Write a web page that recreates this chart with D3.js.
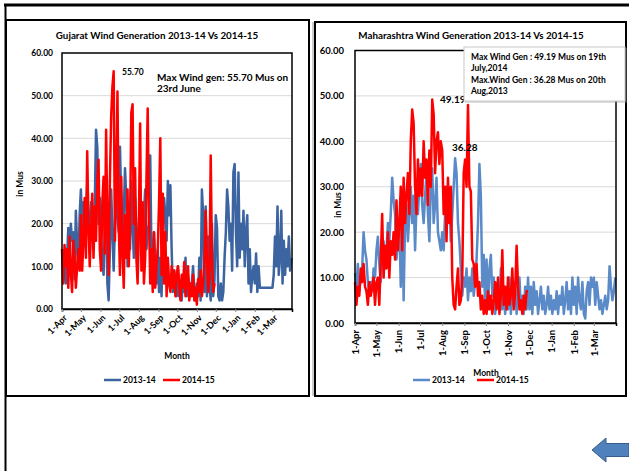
<!DOCTYPE html>
<html><head><meta charset="utf-8">
<script src="https://cdn.jsdelivr.net/npm/d3@7"></script>
<style>
body{margin:0;background:#fff;}
svg text{font-family:Lato,"Open Sans",sans-serif;}
</style></head>
<body><svg id="c" width="629" height="471"></svg>
<script>
// ---- Data (values every 2 days starting 1-Apr) ----
const dayStep = 2;
const monthTicks = ["1-Apr","1-May","1-Jun","1-Jul","1-Aug","1-Sep","1-Oct","1-Nov","1-Dec","1-Jan","1-Feb","1-Mar"];
const yTicks = [0,10,20,30,40,50,60];
const seriesNames = ["2013-14","2014-15"];

const gujarat1314 = [
 14,13,8,6,12,19,10,20,16,18,7,23,15,10,22,
 28,18,25,16,22,29,20,17,25,21,14,24,42,38,20,26,
 16,12,8,20,24,6,2,14,28,18,9,20,30,22,18,
 38,25,16,22,33,26,10,24,14,30,20,12,26,18,9,
 20,28,16,10,22,28,14,18,20,36,12,8,18,11,6,14,
 4,12,3,18,26,22,16,30,22,29,14,4,9,5,3,
 10,3,5,2,8,4,12,3,8,5,3,6,10,4,2,
 6,3,12,2,28,22,4,24,3,17,6,2,20,3,7,
 22,19,3,2,6,2,4,12,18,28,24,16,20,9,32,34,
 18,10,32,12,20,14,23,10,18,22,6,14,4,8,10,
 6,13,4,10,5,5,5,5,5,5,5,5,5,5,
 5,8,17,10,24,8,12,23,6,16,8,14,10,17,9,12];
const gujarat1415 = [
 14,6,15,10,14,5,17,9,4,16,12,5,10,14,9,
 22,9,16,26,12,37,20,10,18,27,12,24,16,30,35,14,
 9,25,31,13,42,20,8,30,45,52,55.7,16,28,51,20,
 8,31,14,5,22,12,28,10,20,46,48,20,33,12,6,
 20,43.5,9,25,6,12,30,47,22,6,14,4,18,5,10,14,
 25,40,8,27,6,18,3,12,6,4,10,5,9,3,8,
 10,6,2,8,5,11,3,7,10,2,6,3,8,2,5,
 1,7,4,9,3,6,11,23,12,4,7,36,12,4,6];

const maha1314 = [
 11,8,13,7,10,12,20,16,14,9,6,9,7,12,10,
 16,19,13,9,15,18,12,16,22,18,24,32,27,24,14,18,
 22,8,28,5,22,26,18,24,30,22,28,16,26,24,30,
 35,26,22,28,33,24,18,30,34,22,26,32,20,18,16,
 20,16,24,30,22,28,18,24,30,36.28,33,22,18,12,6,10,
 8,12,5,10,7,12,6,9,14,22,35,28,8,15,4,
 14,3,12,15,6,10,2,6,9,4,12,3,8,2,6,
 3,10,2,7,4,9,2,6,10,3,6,2,8,3,10,
 3,8,2,9,4,7,2,5,8,3,6,2,4,8,3,6,
 2,5,3,7,2,6,4,8,2,5,9,3,7,2,10,
 4,8,2,10,5,3,9,2,1,7,9,4,10,8,
 10,4,9,6,3,5,2,4,6,3,5,12.5,8,5,7,10];
const maha1415 = [
 9,4,8,6,12,9,13,8,7,4,9,6,8,10,4,
 9,10,4,14,24,10,17,12,20,10,18,15,20,14,27,16,
 22,30,16,32,22,28,33,24,40,47,44,30,24,36,28,
 34,28,40,32,36,26,38,30,49.19,46,33,40,42,35,40,
 38,24,30,18,32,22,30,10,4,3,8,12,4,5,10,33,
 36,30,48,30,29,14,13,8,13,6,9,3,6,2,5,
 2,7,3,6,2,5,9,3,10,2,6,16,4,8,3,
 10,4,6,12,3,7,17,8,3,5,2,6,3,7,7];

const colors = {red:"#ff0000", blueDark:"#3b64a0", blueLight:"#5a8ac8"};

const svg = d3.select("#c");
const start = new Date(2013,3,1);
const dateOf = i => d3.timeDay.offset(start, i*dayStep);
const tickDates = d3.timeMonth.range(new Date(2013,3,1), new Date(2014,3,1));

// outer frame
svg.append("line").attr("x1",4).attr("x2",629).attr("y1",5).attr("y2",5).attr("stroke","#000").attr("stroke-width",3);
svg.append("line").attr("x1",5.5).attr("x2",5.5).attr("y1",5).attr("y2",471).attr("stroke","#000").attr("stroke-width",2);
svg.append("line").attr("x1",313).attr("x2",313).attr("y1",22).attr("y2",396).attr("stroke","#bbb").attr("stroke-width",1.5);

function panel(cfg){
  const g = svg.append("g");
  g.append("rect").attr("x",cfg.box[0]).attr("y",cfg.box[1]).attr("width",cfg.box[2]).attr("height",cfg.box[3])
    .attr("fill","#fff").attr("stroke","#000").attr("stroke-width",2);
  const x = d3.scaleTime().domain([start,new Date(2014,3,1)]).range([cfg.pl,cfg.pr]);
  const y = d3.scaleLinear().domain([0,60]).range([cfg.pb,cfg.pt]);
  // grid
  g.append("g").selectAll("line").data(yTicks.filter(v=>v>0&&v<60)).join("line")
    .attr("x1",cfg.pl).attr("x2",cfg.pr).attr("y1",d=>y(d)).attr("y2",d=>y(d))
    .attr("stroke","#d9d9d9").attr("stroke-width",1);
  // lines
  const line = d3.line().x((d,i)=>x(dateOf(i))).y(d=>y(d));
  g.append("path").datum(cfg.s1).attr("d",line).attr("fill","none").attr("stroke",cfg.blue).attr("stroke-width",2.5).attr("stroke-linejoin","round");
  g.append("path").datum(cfg.s2).attr("d",line).attr("fill","none").attr("stroke",colors.red).attr("stroke-width",2.5).attr("stroke-linejoin","round");
  // plot border
  g.append("rect").attr("x",cfg.pl).attr("y",cfg.pt).attr("width",cfg.pr-cfg.pl).attr("height",cfg.pb-cfg.pt)
    .attr("fill","none").attr("stroke","#000").attr("stroke-width",1.5);
  // y axis
  const ya = g.append("g").attr("transform",`translate(${cfg.pl},0)`)
    .call(d3.axisLeft(y).tickValues(yTicks).tickFormat(d3.format(".2f")).tickSize(0).tickPadding(cfg.ypad));
  ya.select(".domain").remove();
  ya.selectAll("text").attr("font-size",cfg.tickFs).attr("font-weight","bold").attr("fill","#000").attr("font-family","Lato");
  // x axis
  const xa = g.append("g").attr("transform",`translate(0,${cfg.pb})`)
    .call(d3.axisBottom(x).tickValues(tickDates).tickFormat((d,i)=>monthTicks[i]).tickSize(3));
  xa.select(".domain").attr("stroke","#000").attr("stroke-width",1.5);
  xa.selectAll(".tick line").attr("stroke","#888");
  const xt = xa.selectAll("text").attr("font-size",cfg.xFs).attr("font-weight","bold").attr("fill","#000").attr("font-family","Lato")
     .attr("text-anchor","end");
  if(cfg.rot===-45){ xt.attr("transform","translate(0,7) rotate(-45)").attr("dx","0").attr("dy","0.6em").attr("y",0).attr("x",2); }
  else { xt.attr("transform","rotate(-90)").attr("x",-7).attr("y",0).attr("dy","0.35em"); }
  // title
  g.append("text").attr("x",cfg.titleX).attr("y",39).attr("text-anchor","middle").attr("font-size",9.8).attr("font-weight","bold").text(cfg.title);
  // y title
  g.append("text").attr("transform",`translate(${cfg.yTitle[0]},${cfg.yTitle[1]}) rotate(-90)`).attr("text-anchor","middle")
    .attr("font-size",8.5).attr("font-weight","bold").text("in Mus");
  // x title
  g.append("text").attr("x",cfg.monthPos[0]).attr("y",cfg.monthPos[1]).attr("text-anchor","middle").attr("font-size",8.5).attr("font-weight","bold").text("Month");
  // legend
  const lg = g.append("g");
  [[cfg.blue, cfg.leg[0]],[colors.red, cfg.leg[1]]].forEach((p,i)=>{
    lg.append("line").attr("x1",p[1]).attr("x2",p[1]+17).attr("y1",cfg.legY).attr("y2",cfg.legY).attr("stroke",p[0]).attr("stroke-width",2.5);
    lg.append("text").attr("x",p[1]+19).attr("y",cfg.legY+3).attr("font-size",8.5).attr("font-weight","bold").text(seriesNames[i]);
  });
  return {g,x,y};
}

const L = panel({box:[6,20,303,376], pl:62, pr:292, pt:53, pb:309, s1:gujarat1314, s2:gujarat1415, blue:colors.blueDark,
  rot:-45, tickFs:8.5, xFs:9, ypad:9, title:"Gujarat Wind Generation 2013-14 Vs 2014-15", titleX:157, yTitle:[23,184],
  monthPos:[177,359], leg:[104,163], legY:380});
const R = panel({box:[315,22,311,374], pl:355, pr:616, pt:50.5, pb:323, s1:maha1314, s2:maha1415, blue:colors.blueLight,
  rot:-90, tickFs:9.5, xFs:9.5, ypad:11, title:"Maharashtra Wind Generation 2013-14 Vs 2014-15", titleX:471, yTitle:[341,205],
  monthPos:[486,376], leg:[413,477], legY:380});

// annotations left
L.g.append("text").attr("x",122).attr("y",75).attr("font-size",8.5).attr("font-weight","bold").text("55.70");
L.g.append("text").attr("x",157).attr("y",81).attr("font-size",10).attr("font-weight","bold").text("Max Wind gen: 55.70 Mus on");
L.g.append("text").attr("x",157).attr("y",92).attr("font-size",10).attr("font-weight","bold").text("23rd June");

// annotations right
R.g.append("text").attr("x",440).attr("y",103).attr("font-size",10).attr("font-weight","bold").text("49.19");
R.g.append("text").attr("x",452).attr("y",151).attr("font-size",10).attr("font-weight","bold").text("36.28");
R.g.append("rect").attr("x",465).attr("y",48).attr("width",162).attr("height",55).attr("fill","#999").attr("opacity",0.35);
R.g.append("rect").attr("x",464).attr("y",47).attr("width",161).attr("height",54).attr("fill","#fff").attr("stroke","#c8c8c8");
["Max Wind Gen : 49.19 Mus on 19th","July,2014","Max.Wind Gen : 36.28 Mus on 20th","Aug,2013"].forEach((t,i)=>{
  R.g.append("text").attr("x",471).attr("y",59.5+i*11.5).attr("font-size",8.5).attr("font-weight","bold").text(t);
});

// arrow
svg.append("path").attr("d","M592,450 L606,438 L606,443.5 L629,443.5 L629,456.5 L606,456.5 L606,462 Z")
  .attr("fill","#4f81bd").attr("stroke","#385d8a").attr("stroke-width",1);
</script></body></html>
